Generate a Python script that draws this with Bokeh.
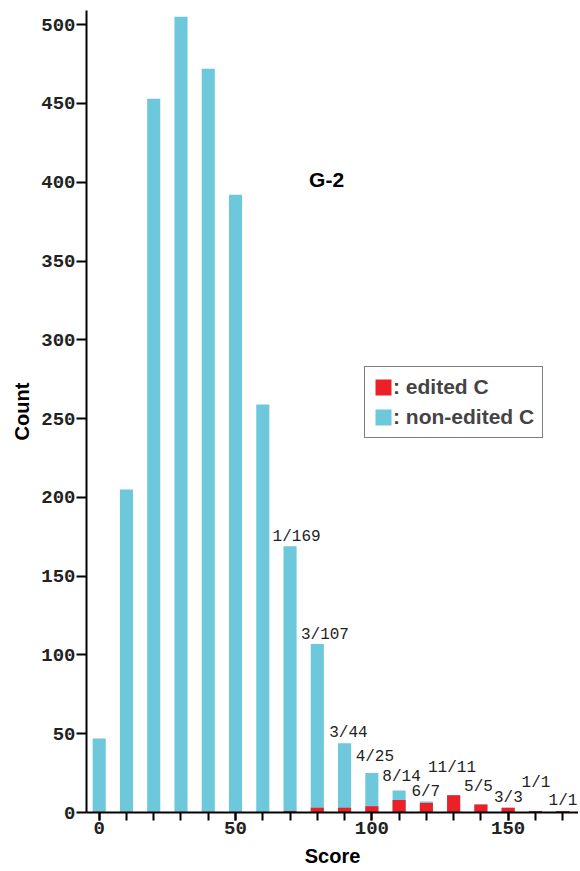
from bokeh.plotting import figure
from bokeh.models import FixedTicker, Legend, LegendItem, ColumnDataSource, Range1d, LabelSet, Label
from bokeh.core.properties import value
from bokeh.embed import file_html
from bokeh.resources import INLINE

# ---- data ----
scores = [0, 10, 20, 30, 40, 50, 60, 70, 80, 90, 100, 110, 120, 130, 140, 150, 160, 170]
total_counts = [47, 205, 453, 505, 472, 392, 259, 169, 107, 44, 25, 14, 7, 11, 5, 3, 1, 1]
edited_counts = [0, 0, 0, 0, 0, 0, 0, 1, 3, 3, 4, 8, 6, 11, 5, 3, 1, 1]

y_ticks = [0, 50, 100, 150, 200, 250, 300, 350, 400, 450, 500]
x_major_ticks = [0, 50, 100, 150]

# annotation placement (data coordinates) for the "edited/total" labels
ann_scores = [70, 80, 90, 100, 110, 120, 130, 140, 150, 160, 170]
ann_x = [72.4, 82.8, 91.4, 101.1, 110.9, 119.8, 129.4, 139.1, 150.1, 160.2, 170.1]
ann_y = [175.0, 112.8, 50.6, 35.4, 22.7, 13.2, 28.4, 16.3, 9.0, 18.9, 7.4]

CYAN = "#6cc8da"
RED = "#ec2027"

idx = {s: i for i, s in enumerate(scores)}
ann_text = [f"{edited_counts[idx[s]]}/{total_counts[idx[s]]}" for s in ann_scores]

src = ColumnDataSource(dict(x=scores, total=total_counts, edited=edited_counts))
ann_src = ColumnDataSource(dict(x=ann_x, y=ann_y, t=ann_text))

p = figure(width=578, height=869, output_backend="svg", toolbar_location=None,
           x_range=Range1d(-4.66, 175.8), y_range=Range1d(0, 509),
           min_border_left=86, min_border_top=10, min_border_right=0, min_border_bottom=0)
p.outline_line_color = None
p.grid.grid_line_color = None
p.background_fill_color = "white"

r_non = p.vbar(x="x", top="total", width=4.8, source=src, fill_color=CYAN, line_color=None)
r_ed = p.vbar(x="x", top="edited", width=4.8, source=src, fill_color=RED, line_color=None)

labels = LabelSet(x="x", y="y", text="t", source=ann_src, text_align="center",
                  text_baseline="middle", text_font=value("Liberation Mono"),
                  text_font_size=value("16px"), text_color="#222222")
p.add_layout(labels)

p.add_layout(Label(x=83.4, y=401.7, text="G-2", text_align="center", text_baseline="middle",
                   text_font="Liberation Sans", text_font_style="bold", text_font_size="21px",
                   text_color="black"))

# axes
for ax in (p.xaxis[0], p.yaxis[0]):
    ax.axis_line_width = 2
    ax.axis_line_color = "black"
    ax.major_tick_line_width = 2
    ax.minor_tick_line_width = 2
    ax.major_tick_in = 0
    ax.minor_tick_in = 0
    ax.major_label_text_font = "Liberation Mono"
    ax.major_label_text_font_style = "bold"
    ax.major_label_text_font_size = "19px"
    ax.major_label_text_color = "#222222"
    ax.axis_label_text_font = "Liberation Sans"
    ax.axis_label_text_font_style = "bold"
    ax.axis_label_text_font_size = "20px"
    ax.axis_label_text_color = "black"

p.xaxis.ticker = FixedTicker(ticks=x_major_ticks, minor_ticks=scores)
p.xaxis.major_tick_out = 8
p.xaxis.minor_tick_out = 8
p.xaxis.major_label_standoff = 1
p.xaxis.axis_label = "Score"
p.xaxis.axis_label_standoff = 8

p.yaxis.ticker = FixedTicker(ticks=y_ticks, minor_ticks=[])
p.yaxis.major_tick_out = 10
p.yaxis.major_label_standoff = 1
p.yaxis.axis_label = "Count"
p.yaxis.axis_label_standoff = 5

legend = Legend(items=[LegendItem(label=": edited C", renderers=[r_ed]),
                       LegendItem(label=": non-edited C", renderers=[r_non])],
                location=(278, 374), padding=8, spacing=6, glyph_width=20, glyph_height=20,
                label_standoff=0, label_height=20, margin=0,
                label_text_font="Liberation Sans", label_text_font_style="bold",
                label_text_font_size="21px", border_line_color="black", border_line_width=1.5,
                background_fill_alpha=1.0)
p.add_layout(legend, "center")

open("out.html", "w").write(file_html(p, INLINE))
